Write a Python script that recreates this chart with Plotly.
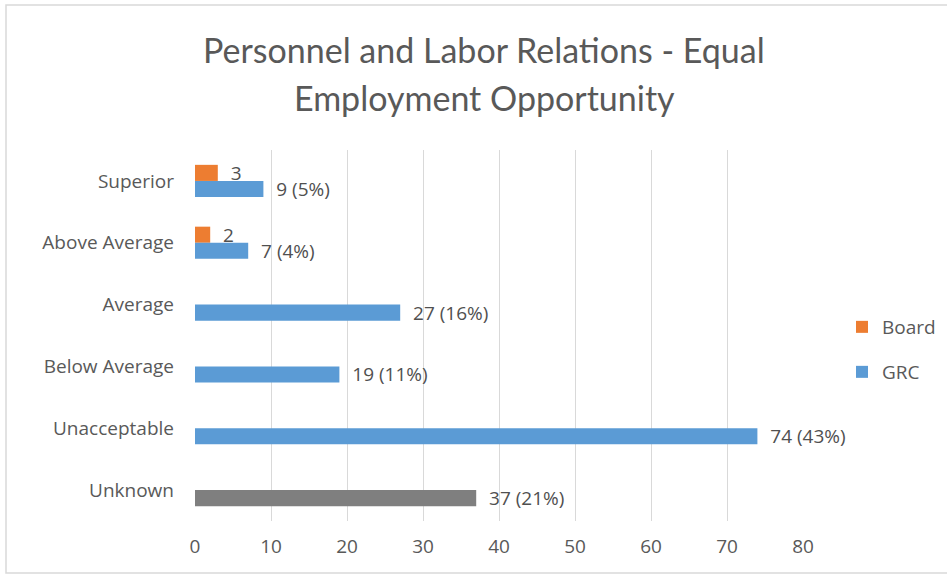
import plotly.graph_objects as go

# Ratings, listed top to bottom
categories = ["Superior", "Above Average", "Average", "Below Average", "Unacceptable", "Unknown"]
board_values = [3, 2, None, None, None, None]
grc_values = [9, 7, 27, 19, 74, 37]
x_ticks = [0, 10, 20, 30, 40, 50, 60, 70, 80]
title_lines = ["Personnel and Labor Relations - Equal", "Employment Opportunity"]

ORANGE = "#ED7D31"
BLUE = "#5B9BD5"
GRAY = "#7F7F7F"
TEXT = "#595959"
FONT = "Open Sans"

total = sum(grc_values)
grc_text = [f"\u00a0\u00a0{v} ({round(100 * v / total)}%)" for v in grc_values]
board_text = [f"\u00a0\u00a0{v}" if v is not None else "" for v in board_values]
grc_colors = [GRAY if c == "Unknown" else BLUE for c in categories]

label_font = dict(family=FONT, size=19, color="#505050")

fig = go.Figure()
fig.add_trace(go.Bar(
    name="Board", y=categories, x=board_values, orientation="h",
    marker=dict(color=ORANGE, line=dict(width=0)),
    text=board_text, textposition="outside", cliponaxis=False,
    constraintext="none", textfont=label_font,
    legend="legend",
))
fig.add_trace(go.Bar(
    name="GRC", y=categories, x=grc_values, orientation="h",
    marker=dict(color=grc_colors, line=dict(width=0)),
    text=grc_text, textposition="outside", cliponaxis=False,
    constraintext="none", textfont=label_font,
    legend="legend2",
))

legend_style = dict(
    xref="container", yref="container", xanchor="left", yanchor="middle",
    font=dict(family=FONT, size=19, color=TEXT), bgcolor="rgba(0,0,0,0)",
    itemclick=False, itemdoubleclick=False,
)

# two-line heading, one annotation per line
title_annotations = [
    dict(text=line, xref="paper", yref="paper",
         x=(484 - 195) / 608, y=1 + (150 - yc) / 371,
         xanchor="center", yanchor="middle", showarrow=False,
         font=dict(family="Lato", size=34, color=TEXT))
    for line, yc in zip(title_lines, [50, 97])
]

fig.update_layout(
    width=947, height=578,
    margin=dict(l=195, r=144, t=150, b=57),
    paper_bgcolor="white", plot_bgcolor="white",
    barmode="group", bargap=0.48, bargroupgap=0,
    font=dict(family=FONT, color=TEXT),
    annotations=title_annotations,
    xaxis=dict(
        range=[0, 80], tickvals=x_ticks, showgrid=True, gridcolor="#D9D9D9",
        gridwidth=1, zeroline=False, showline=False, ticks="",
        tickfont=dict(family=FONT, size=19, color=TEXT), ticklabelstandoff=12,
    ),
    yaxis=dict(
        categoryorder="array", categoryarray=categories, autorange="reversed",
        showgrid=False, zeroline=False, showline=False, ticks="",
        tickfont=dict(family=FONT, size=19, color=TEXT), ticklabelstandoff=20,
    ),
    legend=dict(x=842 / 947, y=1 - 327 / 578, **legend_style),
    legend2=dict(x=842 / 947, y=1 - 372 / 578, **legend_style),
    showlegend=True,
    shapes=[dict(
        type="rect", xref="paper", yref="paper", layer="below",
        x0=-189 / 608, x1=(947 - 195 + 10) / 608,
        y0=-52 / 371, y1=1 + 145 / 371,
        line=dict(color="#D9D9D9", width=1.5), fillcolor="rgba(0,0,0,0)",
    )],
)

fig.write_html("out.html")
